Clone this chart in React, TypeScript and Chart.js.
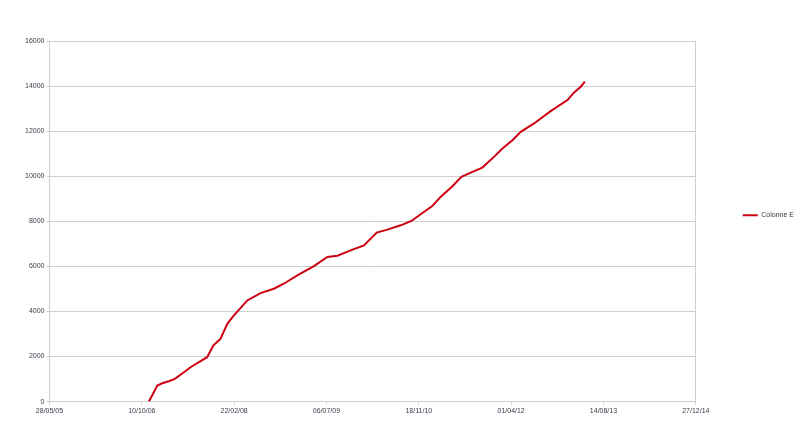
import React, { useEffect, useRef } from "react";
import { Chart, registerables } from "chart.js";

Chart.register(...registerables);

// Days since 28/05/2005
const startDateUTC = Date.UTC(2005, 4, 28);
const dayOffsets = [538, 556, 584, 611, 646, 679, 728, 764, 809, 854, 887, 926, 963, 999, 1071, 1143, 1215, 1269, 1342, 1432, 1505, 1559, 1631, 1703, 1772, 1830, 1902, 1960, 2010, 2073, 2118, 2182, 2231, 2281, 2344, 2407, 2453, 2507, 2552, 2624, 2714, 2805, 2841, 2877, 2899];
const colonneE = [0, 270, 711, 815, 904, 1007, 1304, 1526, 1748, 1970, 2489, 2785, 3452, 3822, 4489, 4815, 5007, 5230, 5600, 6015, 6415, 6474, 6711, 6933, 7496, 7630, 7822, 8015, 8311, 8681, 9081, 9556, 9970, 10163, 10385, 10859, 11230, 11600, 11970, 12341, 12889, 13378, 13720, 13970, 14193];
const seriesLabel = "Colonne E";
const xMin = 0;
const xMax = 3500;
const xStep = 500;
const yMin = 0;
const yMax = 16000;
const yStep = 2000;

const pad = (n: number) => (n < 10 ? "0" + n : String(n));
const formatDay = (v: number) => {
  const d = new Date(startDateUTC + v * 86400000);
  return pad(d.getUTCDate()) + "/" + pad(d.getUTCMonth() + 1) + "/" + pad(d.getUTCFullYear() % 100);
};

const legendShift = {
  id: "legendShift",
  afterLayout(chart: any) {
    if (chart.legend) {
      chart.legend.top -= 6;
      chart.legend.bottom -= 6;
    }
  },
};

export default function App() {
  const ref = useRef<HTMLCanvasElement | null>(null);
  useEffect(() => {
    if (!ref.current) return;
    const font = { family: "'Liberation Sans', Arial, sans-serif", size: 7 };
    const textColor = "#3a3a4a";
    const gridColor = "#cfcfcf";
    const chart = new Chart(ref.current, {
      type: "line",
      data: {
        datasets: [
          {
            label: seriesLabel,
            data: dayOffsets.map((d, i) => ({ x: d, y: colonneE[i] })),
            borderColor: "#cc0011",
            backgroundColor: "#cc0011",
            borderWidth: 2,
            pointRadius: 0,
            tension: 0,
            fill: false,
          },
        ],
      },
      plugins: [legendShift],
      options: {
        animation: false,
        responsive: false,
        maintainAspectRatio: false,
        layout: { padding: { left: 23, top: 41, bottom: 15, right: -4 } },
        plugins: {
          tooltip: { enabled: false },
          legend: {
            position: "right",
            fullSize: false,
            labels: {
              font,
              color: textColor,
              usePointStyle: true,
              pointStyle: "line",
              pointStyleWidth: 15,
              padding: 47,
            },
          },
        },
        scales: {
          x: {
            type: "linear",
            min: xMin,
            max: xMax,
            ticks: {
              stepSize: xStep,
              font,
              color: textColor,
              padding: 2,
              maxRotation: 0,
              autoSkip: false,
              callback: (v: any) => formatDay(Number(v)),
            },
            grid: {
              color: (c: any) => (c.index === 7 ? gridColor : "rgba(0,0,0,0)"),
              tickColor: gridColor,
              tickLength: 3,
            },
            border: { display: true, color: gridColor },
          },
          y: {
            min: yMin,
            max: yMax,
            ticks: {
              stepSize: yStep,
              font,
              color: textColor,
              padding: 2,
              callback: (v: any) => String(v),
            },
            grid: { color: gridColor, tickColor: gridColor, tickLength: 3 },
            border: { display: true, color: gridColor },
          },
        },
      },
    });
    return () => chart.destroy();
  }, []);
  return (
    <div style={{ position: "fixed", left: 0, top: 0, width: 800, height: 432, background: "#fff" }}>
      <canvas ref={ref} width={800} height={432} style={{ display: "block", width: 800, height: 432 }} />
    </div>
  );
}
